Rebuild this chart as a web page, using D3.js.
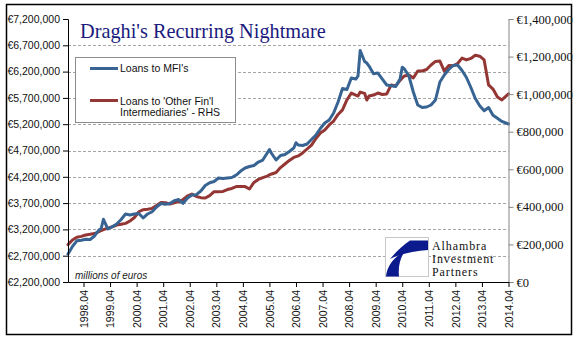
<!DOCTYPE html>
<html>
<head>
<meta charset="utf-8">
<script src="https://cdn.jsdelivr.net/npm/d3@7"></script>
<style>
  html, body { margin: 0; padding: 0; background: #fff; }
  svg { display: block; }
</style>
</head>
<body>
<svg id="chart" width="576" height="339"></svg>
<script>
// Month labels (year.month) of the observations
const dates = [
  "1997.09","1997.11","1998.01","1998.03","1998.05","1998.07","1998.09","1998.11","1998.12",
  "1999.01","1999.03","1999.05","1999.07","1999.09","1999.11",
  "2000.01","2000.03","2000.05","2000.07","2000.09","2000.11",
  "2001.01","2001.03","2001.05","2001.07","2001.09","2001.11",
  "2002.01","2002.03","2002.05","2002.07","2002.09","2002.11",
  "2003.01","2003.03","2003.05","2003.07","2003.09","2003.11",
  "2004.01","2004.03","2004.05","2004.07","2004.09","2004.11",
  "2005.01","2005.03","2005.04","2005.05","2005.07","2005.09","2005.11",
  "2006.01","2006.03","2006.04","2006.05","2006.07","2006.09","2006.11",
  "2007.01","2007.03","2007.05","2007.07","2007.09","2007.11",
  "2008.01","2008.03","2008.05","2008.07","2008.08","2008.09","2008.11","2008.12",
  "2009.01","2009.03","2009.05","2009.07","2009.09","2009.11",
  "2010.01","2010.03","2010.04","2010.05","2010.07","2010.09","2010.11",
  "2011.01","2011.03","2011.05","2011.07","2011.09","2011.11",
  "2012.01","2012.03","2012.05","2012.07","2012.09","2012.11",
  "2013.01","2013.03","2013.05","2013.07","2013.09","2013.11",
  "2014.01","2014.04"
];

// Loans to MFIs, € millions (left axis)
const mfiLoans = [
  2732000,2875000,2983000,2993000,3012000,3008000,3075000,3189000,3217000,
  3392000,3208000,3251000,3303000,3388000,3493000,
  3474000,3493000,3502000,3417000,3493000,3536000,
  3626000,3692000,3677000,3692000,3746000,3768000,
  3696000,3797000,3854000,3860000,3930000,4035000,
  4086000,4111000,4177000,4168000,4177000,4187000,
  4234000,4310000,4367000,4396000,4415000,4481000,
  4519000,4652000,4719000,4643000,4519000,4605000,4624000,
  4681000,4747000,4848000,4805000,4795000,4824000,4909000,
  4995000,5118000,5223000,5280000,5413000,5622000,
  5879000,5860000,6078000,6059000,6116000,6601000,6392000,6363000,
  6306000,6158000,6173000,6059000,5945000,5932000,
  5917000,6059000,6282000,6249000,6116000,5812000,5565000,
  5517000,5527000,5565000,5660000,6002000,6135000,
  6240000,6316000,6325000,6221000,6088000,5898000,
  5689000,5550000,5455000,5517000,5369000,5312000,
  5253000,5204000
];

// Loans to other financial intermediaries, € millions (right axis)
const ofiLoans = [
  199000,224000,238000,243000,250000,254000,258000,268000,274000,
  279000,287000,294000,303000,307000,312000,
  325000,343000,374000,385000,387000,392000,
  407000,423000,422000,415000,421000,428000,
  439000,458000,468000,455000,449000,447000,
  460000,481000,481000,482000,492000,498000,
  508000,509000,508000,495000,530000,546000,
  556000,564000,570000,575000,583000,609000,628000,
  647000,663000,667000,671000,687000,708000,729000,
  764000,793000,809000,836000,857000,892000,
  916000,969000,1006000,995000,990000,1011000,1004000,969000,
  990000,995000,1006000,998000,1001000,1049000,
  1043000,1073000,1086000,1097000,1102000,1086000,1123000,
  1123000,1131000,1155000,1174000,1176000,1123000,
  1152000,1151000,1163000,1192000,1182000,1190000,
  1207000,1202000,1182000,1049000,1027000,985000,
  969000,1001000
];

const leftTicks = [2200000,2700000,3200000,3700000,4200000,4700000,5200000,5700000,6200000,6700000,7200000];
const rightTicks = [0,200000,400000,600000,800000,1000000,1200000,1400000];
const xTickLabels = ["1998.04","1999.04","2000.04","2001.04","2002.04","2003.04","2004.04","2005.04",
  "2006.04","2007.04","2008.04","2009.04","2010.04","2011.04","2012.04","2013.04","2014.04"];

const seriesNames = ["Loans to MFI's", "Loans to 'Other Fin'l", "Intermediaries' - RHS"];
const colors = { mfi: "#386493", ofi: "#943634" };

// month index from "YYYY.MM"
const monthIndex = s => { const [y, m] = s.split(".").map(Number); return y * 12 + (m - 1); };

const svg = d3.select("#chart");
const plot = { left: 68, right: 508.5, top: 19, bottom: 282 };

const x = d3.scaleLinear()
  .domain([monthIndex(dates[0]), monthIndex(dates[dates.length - 1])])
  .range([plot.left, plot.right]);
const yL = d3.scaleLinear().domain([2200000, 7200000]).range([plot.bottom, plot.top]);
const yR = d3.scaleLinear().domain([0, 1400000]).range([plot.bottom, plot.top]);

const euro = d => "\u20AC" + d3.format(",")(d);

// outer frame
svg.append("rect").attr("x", 6.5).attr("y", 4.5).attr("width", 565).attr("height", 330)
  .attr("fill", "#fff").attr("stroke", "#000").attr("stroke-width", 1.5);

// horizontal dashed gridlines
svg.append("g").selectAll("line")
  .data(leftTicks.filter(d => d > 2200000 && d < 7200000))
  .join("line")
  .attr("x1", plot.left).attr("x2", plot.right)
  .attr("y1", d => Math.round(yL(d)) + 0.5).attr("y2", d => Math.round(yL(d)) + 0.5)
  .attr("stroke", "#a6a6a6").attr("stroke-width", 1).attr("stroke-dasharray", "3,2");

// title
svg.append("text").attr("x", 80).attr("y", 38)
  .attr("font-family", "'Liberation Serif', 'Times New Roman', serif")
  .attr("font-size", 20.3).attr("fill", "#1b1b7d")
  .text("Draghi's Recurring Nightmare");

// legend
const lg = svg.append("g");
lg.append("rect").attr("x", 75.5).attr("y", 57.5).attr("width", 160).attr("height", 65)
  .attr("fill", "#fff").attr("stroke", "#8c8c8c").attr("stroke-width", 1);
lg.append("line").attr("x1", 90).attr("x2", 118).attr("y1", 68.5).attr("y2", 68.5)
  .attr("stroke", colors.mfi).attr("stroke-width", 3);
lg.append("line").attr("x1", 90).attr("x2", 118).attr("y1", 100.5).attr("y2", 100.5)
  .attr("stroke", colors.ofi).attr("stroke-width", 3);
const legendFont = { "font-family": "'Liberation Sans', Arial, sans-serif", "font-size": 10.5, "fill": "#111" };
[[seriesNames[0], 72], [seriesNames[1], 104.5], [seriesNames[2], 116]].forEach(([t, yy]) => {
  const tx = lg.append("text").attr("x", 120).attr("y", yy).text(t);
  Object.entries(legendFont).forEach(([k, v]) => tx.attr(k, v));
});

// lines
const lineL = d3.line().x((d, i) => x(monthIndex(dates[i]))).y(d => yL(d));
const lineR = d3.line().x((d, i) => x(monthIndex(dates[i]))).y(d => yR(d));
svg.append("path").datum(ofiLoans).attr("d", lineR)
  .attr("fill", "none").attr("stroke", colors.ofi).attr("stroke-width", 3)
  .attr("stroke-linejoin", "round").attr("stroke-linecap", "round");
svg.append("path").datum(mfiLoans).attr("d", lineL)
  .attr("fill", "none").attr("stroke", colors.mfi).attr("stroke-width", 3)
  .attr("stroke-linejoin", "round").attr("stroke-linecap", "round");

// left axis
const gL = svg.append("g").attr("transform", `translate(${plot.left},0)`)
  .call(d3.axisLeft(yL).tickValues(leftTicks).tickFormat(euro).tickSize(5).tickPadding(3));
gL.select(".domain").attr("stroke", "#000");
gL.selectAll(".tick line").attr("stroke", "#000");
gL.selectAll("text").attr("font-family", "'Liberation Sans', Arial, sans-serif")
  .attr("font-size", 10.5).attr("fill", "#111");

// right axis
const gR = svg.append("g").attr("transform", `translate(${plot.right},0)`)
  .call(d3.axisRight(yR).tickValues(rightTicks).tickFormat(euro).tickSize(5).tickPadding(3));
gR.select(".domain").attr("stroke", "#868686");
gR.selectAll(".tick line").attr("stroke", "#868686");
gR.selectAll("text").attr("font-family", "'Liberation Serif', 'Times New Roman', serif")
  .attr("font-size", 12.5).attr("fill", "#111");

// bottom axis
const gX = svg.append("g").attr("transform", `translate(0,${plot.bottom})`)
  .call(d3.axisBottom(x).tickValues(xTickLabels.map(monthIndex))
    .tickFormat((d, i) => xTickLabels[i]).tickSize(5).tickSizeOuter(0));
gX.select(".domain").attr("stroke", "#000");
gX.selectAll(".tick line").attr("stroke", "#000");
gX.selectAll("text")
  .attr("font-family", "'Liberation Sans', Arial, sans-serif")
  .attr("font-size", 10.5).attr("fill", "#111")
  .attr("transform", "rotate(-90)")
  .attr("text-anchor", "end")
  .attr("x", -8).attr("y", 0).attr("dy", "0.35em");

// units note
svg.append("text").attr("x", 75).attr("y", 279)
  .attr("font-family", "'Liberation Sans', Arial, sans-serif")
  .attr("font-style", "italic").attr("font-size", 10).attr("fill", "#222")
  .text("millions of euros");

// company mark
const logo = svg.append("g");
logo.append("rect").attr("x", 385.5).attr("y", 237.5).attr("width", 43).attr("height", 39)
  .attr("fill", "#fff").attr("stroke", "#c8c8c8").attr("stroke-width", 1);
logo.append("path")
  .attr("d", "M410,240.5 L428,240.5 L428,250 C415,251 400,254 390,259 C396,252 403,245 410,240.5 Z")
  .attr("fill", "#0b1a8c");
logo.append("path")
  .attr("d", "M405,251 C394,257 387,266 386,276.5 L399,276.5 C398,267 400,258 405,251 Z")
  .attr("fill", "#0b1a8c");
["Alhambra", "Investment", "Partners"].forEach((t, i) => {
  logo.append("text").attr("x", 432).attr("y", 249.5 + i * 13.3)
    .attr("font-family", "'Liberation Serif', 'Times New Roman', serif")
    .attr("font-size", 12).attr("letter-spacing", 0.9).attr("fill", "#111").text(t);
});
</script>
</body>
</html>
